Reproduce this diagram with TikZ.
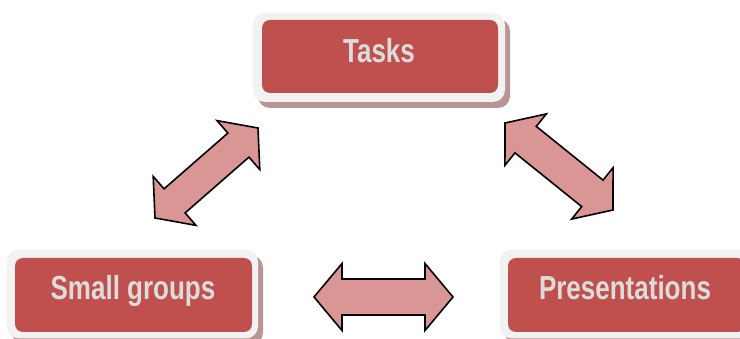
\documentclass[tikz,border=0pt]{standalone}
\usepackage{fontspec}
\setmainfont{Liberation Sans}
\usetikzlibrary{calc,shadows}
\definecolor{boxred}{RGB}{192,80,77}
\definecolor{framegray}{RGB}{242,242,242}
\definecolor{txtgray}{RGB}{220,220,220}
\definecolor{arrowpink}{RGB}{217,150,148}
\definecolor{shadowc}{RGB}{184,148,148}
\newcommand\boxlabel[1]{\scalebox{1}[1.28]{#1}}
% #1 = end A, #2 = end B, #3 = head length, #4 = head half-width, #5 = shaft half-width
\newcommand\blockarrow[5]{%
  \draw[blockarr] (#1)
    -- ($(#1)!#3!(#2)!#4!90:(#2)$)
    -- ($(#1)!#3!(#2)!#5!90:(#2)$)
    -- ($(#2)!#3!(#1)!#5!-90:(#1)$)
    -- ($(#2)!#3!(#1)!#4!-90:(#1)$)
    -- (#2)
    -- ($(#2)!#3!(#1)!#4!90:(#1)$)
    -- ($(#2)!#3!(#1)!#5!90:(#1)$)
    -- ($(#1)!#3!(#2)!#5!-90:(#2)$)
    -- ($(#1)!#3!(#2)!#4!-90:(#2)$)
    -- cycle;}
\begin{document}
\begin{tikzpicture}[x=1pt,y=-1pt,
  frame/.style={fill=framegray, rounded corners=12pt, inner sep=0pt,
    minimum width=252pt, minimum height=89pt,
    general shadow={shadow xshift=5pt, shadow yshift=-6pt, fill=shadowc}},
  redbox/.style={fill=boxred, rounded corners=8pt, inner sep=0pt,
    minimum width=236pt, minimum height=73pt},
  boxtext/.style={anchor=base, inner sep=0pt, text=txtgray,
    font=\fontsize{26}{30}\selectfont\bfseries},
  blockarr/.style={fill=arrowpink, draw=black, line width=1.6pt, line join=miter}]
\useasboundingbox (0,0) rectangle (740,339);
\clip (0,0) rectangle (740,339);
% boxes
\node[frame] (tasksframe) at (379,57.5) {};
\node[redbox] (tasksbox) at (380,56.5) {};
\node[boxtext] (tasks) at (379,63) {\boxlabel{Tasks}};
\node[frame, minimum width=251pt] (smallframe) at (132.5,294) {};
\node[redbox, minimum width=237pt, minimum height=74pt] (smallbox) at (133.5,295) {};
\node[boxtext] (small) at (133,300) {\boxlabel{Small groups}};
\node[frame] (presframe) at (626,294) {};
\node[redbox, minimum width=237pt, minimum height=74pt] (presbox) at (626.5,295) {};
\node[boxtext] (pres) at (625,300) {\boxlabel{Presentations}};
% arrow ends
\coordinate (la) at (155,218);
\coordinate (lb) at (258,128);
\coordinate (ra) at (505,123);
\coordinate (rb) at (613,210);
\coordinate (ha) at (314,297);
\coordinate (hb) at (453,297);
\blockarrow{la}{lb}{26pt}{32.5pt}{16pt}
\blockarrow{ra}{rb}{26.5pt}{33pt}{17pt}
\blockarrow{ha}{hb}{28pt}{33.5pt}{18pt}
\end{tikzpicture}
\end{document}
